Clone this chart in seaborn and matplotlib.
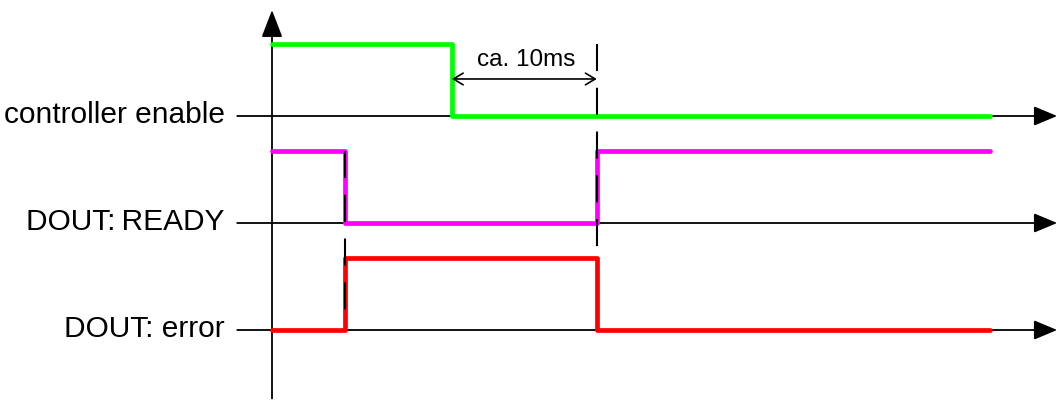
import pandas as pd
import matplotlib.pyplot as plt
import seaborn as sns

# signal names (top to bottom) and their baselines
signals = ['controller enable', 'DOUT: READY', 'DOUT: error']
labels = ['controller enable', 'DOUT:\u2009READY', 'DOUT: error']
baselines = [2, 1, 0]
colors = ['#00FF00', '#FF00FF', '#FF0000']

# switching times in ms and logical state after each time
times_enable = [0, 12.4, 49.5]
state_enable = [1, 0, 0]
times_ready = [0, 5.0, 22.4, 49.5]
state_ready = [1, 0, 1, 1]
times_error = [0, 5.0, 22.4, 49.5]
state_error = [0, 1, 0, 0]

high = 0.67          # height of a "1" above the baseline
delay_start = 12.4   # ca. 10ms interval
delay_end = 22.4

rows = []
for name, base, ts, st in zip(signals, baselines,
                              [times_enable, times_ready, times_error],
                              [state_enable, state_ready, state_error]):
    for t, s in zip(ts, st):
        rows.append({'t': t, 'y': base + s * high, 'signal': name})
df = pd.DataFrame(rows)

sns.set_style('white')
plt.rcParams['font.family'] = ['Liberation Sans', 'DejaVu Sans']
plt.rcParams['text.color'] = 'black'

fig = plt.figure(figsize=(10.58, 4), dpi=100)
ax = fig.add_axes([0, 0, 1, 1])
ax.set_xlim(-272 / 14.5, (1058 - 272) / 14.5)
ax.set_ylim(-70 / 107, 330 / 107)
ax.axis('off')

# baselines with arrows and labels
for lab, base in zip(labels, baselines):
    ax.annotate('', xy=(54.15, base), xytext=(-2.4, base),
                arrowprops=dict(arrowstyle='-|>,head_length=0.6,head_width=0.25',
                                mutation_scale=24, lw=1.3, color='black',
                                shrinkA=0, shrinkB=0), zorder=1)
    ax.text(-3.25, base + 0.01, lab, ha='right', va='center', fontsize=21.5)

# vertical axis
ax.annotate('', xy=(0, 2.99), xytext=(0, -0.64),
            arrowprops=dict(arrowstyle='-|>,head_length=0.65,head_width=0.25',
                            mutation_scale=26, lw=1.3, color='black',
                            shrinkA=0, shrinkB=0), zorder=1)

# signals
sns.lineplot(data=df, x='t', y='y', hue='signal', palette=colors,
             hue_order=signals, estimator=None, sort=False,
             drawstyle='steps-post', lw=3.4, legend=False, ax=ax, zorder=2)

# dashed markers at transitions
ax.plot([5.0, 5.0], [1 + high, 0.12], color='black', lw=1.5,
        linestyle=(0, (13, 8)), zorder=3)
ax.plot([delay_end, delay_end], [2 + high, 0.67], color='black', lw=1.5,
        linestyle=(0, (13, 8)), zorder=3)

# ca. 10ms dimension
ax.annotate('', xy=(delay_end, 2.346), xytext=(delay_start, 2.346),
            arrowprops=dict(arrowstyle='<->,head_length=0.5,head_width=0.3',
                            mutation_scale=14, lw=1.2, color='black',
                            shrinkA=0, shrinkB=0), zorder=3)
ax.text((delay_start + delay_end) / 2 + 0.1, 2.42, 'ca. 10ms',
        ha='center', va='bottom', fontsize=17.5)

plt.savefig('out.png', dpi=100)
